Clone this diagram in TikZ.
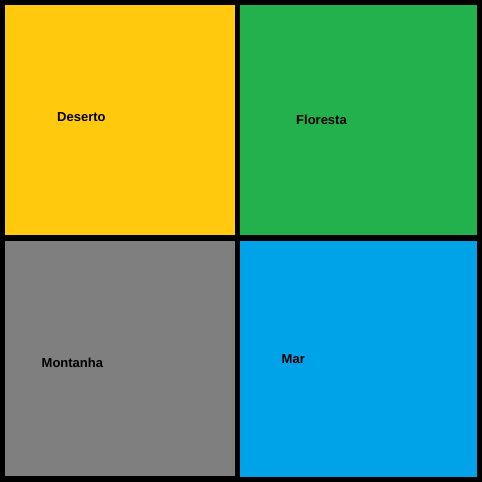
\documentclass[tikz,border=0pt]{standalone}
\usepackage{fontspec}
\setmainfont{Liberation Sans}
\definecolor{deserto}{RGB}{255,201,14}
\definecolor{floresta}{RGB}{34,177,76}
\definecolor{montanha}{RGB}{127,127,127}
\definecolor{mar}{RGB}{0,162,232}
\begin{document}
\begin{tikzpicture}[x=1pt, y=-1pt,
  lbl/.style={anchor=west, inner sep=0pt, font=\fontsize{13}{15}\selectfont\bfseries}
]
\fill[black] (0,0) rectangle (482,482);
\fill[deserto] (5,5) rectangle (235,235);
\fill[floresta] (240,5) rectangle (477,235);
\fill[montanha] (5,241) rectangle (235,476);
\fill[mar] (240,241) rectangle (477,477);
\node[lbl] (des) at (57,117.5) {Deserto};
\node[lbl] (flo) at (296,120) {Floresta};
\node[lbl] (mon) at (41.5,363) {Montanha};
\node[lbl] (mar) at (281.5,359.5) {Mar};
\end{tikzpicture}
\end{document}
